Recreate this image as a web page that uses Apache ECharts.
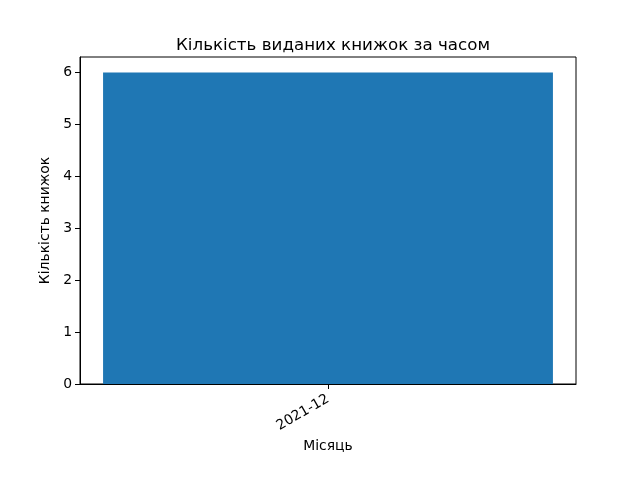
<!DOCTYPE html>
<html>
<head>
<meta charset="utf-8">
<script src="https://cdn.jsdelivr.net/npm/echarts@6/dist/echarts.min.js"></script>
<style>html,body{margin:0;padding:0;background:#fff}#c{width:640px;height:480px}</style>
</head>
<body>
<div id="c"></div>
<script>
const categories = ['2021-12'];
const counts = [6];
const yTicks = [0, 1, 2, 3, 4, 5, 6];
const titleText = 'Кількість виданих книжок за часом';
const xName = 'Місяць';
const yName = 'Кількість книжок';

const chart = echarts.init(document.getElementById('c'), null, {renderer: 'canvas'});
const font = 'DejaVu Sans';
chart.setOption({
  animation: false,
  backgroundColor: '#fff',
  title: {
    text: titleText, left: 328, top: 32, textAlign: 'center',
    textStyle: {fontFamily: font, fontSize: 16.7, fontWeight: 'normal', color: '#000'}
  },
  grid: {left: 80, right: 64, top: 57, bottom: 96, show: true, borderColor: '#000', borderWidth: 1, backgroundColor: 'transparent'},
  xAxis: {
    type: 'category', data: categories,
    name: xName, nameLocation: 'middle', nameGap: 55,
    nameTextStyle: {fontFamily: font, fontSize: 13.9, color: '#000'},
    axisLine: {lineStyle: {color: '#000', width: 1}},
    axisTick: {show: true, interval: 0, alignWithLabel: true, length: 5, lineStyle: {color: '#000'}},
    axisLabel: {rotate: 30, interval: 0, fontFamily: font, fontSize: 13.9, color: '#000', margin: 14}
  },
  yAxis: {
    type: 'value', min: 0, max: 6.3,
    name: yName, nameLocation: 'middle', nameGap: 24,
    nameTextStyle: {fontFamily: font, fontSize: 13.9, color: '#000'},
    axisLine: {show: true, lineStyle: {color: '#000', width: 1}},
    axisTick: {show: true, length: 5, lineStyle: {color: '#000'}, customValues: yTicks},
    axisLabel: {fontFamily: font, fontSize: 13.9, color: '#000', margin: 8, padding: [4, 0, 0, 0], customValues: yTicks},
    splitLine: {show: false}
  },
  series: [{
    type: 'bar', data: counts, barWidth: '90.7%',
    itemStyle: {color: '#1f77b4'}
  }]
});
</script>
</body>
</html>
